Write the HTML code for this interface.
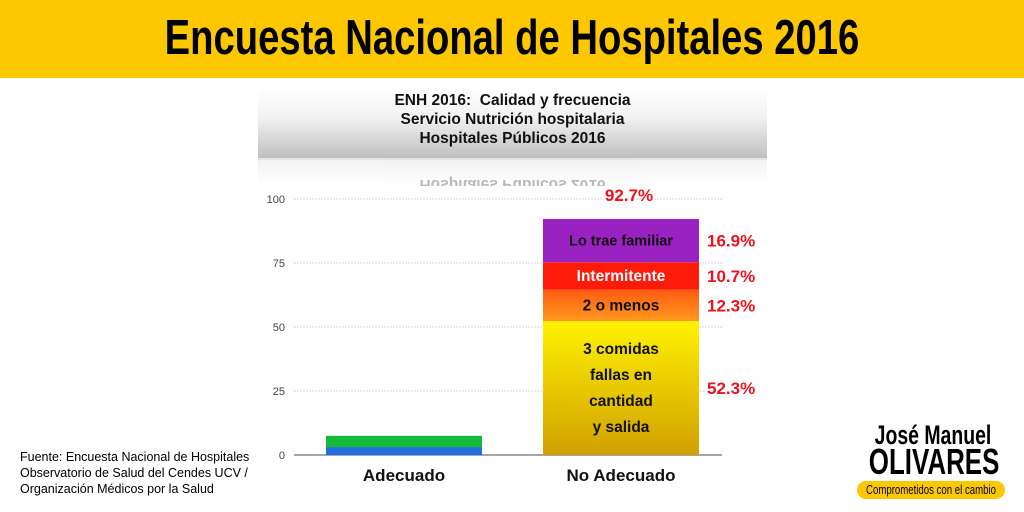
<!DOCTYPE html>
<html><head><meta charset="utf-8"><style>
body{margin:0;width:1024px;height:512px;background:#fff;overflow:hidden;position:relative;font-family:"Liberation Sans",sans-serif}
.hdr{position:absolute;left:0;top:0;width:1024px;height:78px;background:#fdc800}
.hdr span{position:absolute;left:0;right:0;top:10px;text-align:center;font-weight:bold;font-size:49px;color:#000;transform:scaleX(0.78);font-family:"Liberation Sans Narrow","Liberation Sans",sans-serif;white-space:nowrap}
.tbox{position:absolute;left:258px;top:88px;width:509px;height:72px;background:linear-gradient(#fff,#f2f2f2 40%,#bdbdbd);text-align:center;font-weight:bold;font-size:15.5px;line-height:19px;padding-top:3px;box-sizing:border-box;color:#111}
.refl{position:absolute;left:258px;top:158px;width:509px;height:28px;text-align:center;font-weight:bold;font-size:15.5px;color:#aaa;transform:scaleY(-1);background:linear-gradient(#fff,#eee);opacity:.8;line-height:19px;overflow:hidden}
.src{position:absolute;left:20px;top:449px;font-size:12.5px;line-height:16px;color:#000;white-space:nowrap}
.logo1{position:absolute;left:848px;top:422px;width:170px;text-align:center;font-weight:bold;font-size:27px;line-height:26px;transform:scaleX(.72);font-family:"Liberation Sans Narrow","Liberation Sans",sans-serif;white-space:nowrap}
.logo2{position:absolute;left:845px;top:444px;width:170px;text-align:center;font-weight:bold;font-size:36px;line-height:36px;transform:scaleX(.72);font-family:"Liberation Sans Narrow","Liberation Sans",sans-serif;white-space:nowrap}
.pill{position:absolute;left:857px;top:481px;width:148px;height:18px;border-radius:9px;background:#fdc800;overflow:hidden}
.pill div{position:absolute;left:-21px;width:190px;top:0;text-align:center;font-size:13px;line-height:18px;white-space:nowrap;transform:scaleX(.74)}
</style></head><body>
<div class="hdr"><span>Encuesta Nacional de Hospitales 2016</span></div>
<div class="tbox">ENH 2016:&nbsp; Calidad y frecuencia<br>Servicio Nutrición hospitalaria<br>Hospitales Públicos 2016</div>
<div class="refl"><div style="margin-top:-8px">Hospitales Públicos 2016</div></div>
<svg id="chart" width="1024" height="512" style="position:absolute;left:0;top:0"></svg>
<div class="src">Fuente: Encuesta Nacional de Hospitales<br>Observatorio de Salud del Cendes UCV /<br>Organización Médicos por la Salud</div>
<div class="logo1">José Manuel</div>
<div class="logo2">OLIVARES</div>
<div class="pill"><div>Comprometidos con el cambio</div></div>
<script>
const ticks=[0,25,50,75,100];
const categories=["Adecuado","No Adecuado"];
const adecuadoVals=[3.1,4.4];
const adecuadoColors=["#1f6fe0","#16b93a"];
const noAdecLabels=["3 comidas\nfallas en\ncantidad\ny salida","2 o menos","Intermitente","Lo trae familiar"];
const noAdecVals=[52.3,12.3,10.7,16.9];
const noAdecPct=["52.3%","12.3%","10.7%","16.9%"];
const totalLabel="92.7%";
const NS="http://www.w3.org/2000/svg";
const svg=document.getElementById('chart');
const y=v=>455-v*2.56;
function mk(t,a){const e=document.createElementNS(NS,t);for(const k in a)e.setAttribute(k,a[k]);svg.appendChild(e);return e;}
ticks.forEach(t=>{
 const l=mk('line',{x1:294,x2:722,y1:y(t),y2:y(t),stroke:t?'#d4d4d4':'#888','stroke-width':t?1:1.5,'stroke-dasharray':t?'2,1':''});
 
 
 const tx=mk('text',{x:285,y:y(t)+4,'text-anchor':'end','font-size':11,fill:'#444'});tx.textContent=t;
 
 
});
const bx=[326,543],bw=156;
categories.forEach((c,i)=>{const t=mk('text',{x:bx[i]+bw/2,y:481,'text-anchor':'middle','font-size':17,'font-weight':'bold',fill:'#111'});t.textContent=c;
 
 });
let acc=0;
adecuadoVals.forEach((v,i)=>{const r=mk('rect',{x:bx[0],y:y(acc+v),width:bw,height:v*2.56,fill:adecuadoColors[i]});acc+=v;
 
 });
const defs=mk('defs',{});
defs.innerHTML='<linearGradient id="gy" x1="0" y1="0" x2="0" y2="1"><stop offset="0" stop-color="#fff200"/><stop offset="1" stop-color="#d0a000"/></linearGradient><linearGradient id="go" x1="0" y1="0" x2="0" y2="1"><stop offset="0" stop-color="#ff5a10"/><stop offset="1" stop-color="#ff9a20"/></linearGradient>';
const cols=["url(#gy)","url(#go)","#ff1a0a","#9a22c0"];
acc=0;
noAdecVals.forEach((v,i)=>{
 const top=y(acc+v),bot=y(acc);
 const r=mk('rect',{x:bx[1],y:top,width:bw,height:bot-top,fill:cols[i]});
 
 
 const lines=noAdecLabels[i].split('\n');const mid=(top+bot)/2;
 lines.forEach((ln,j)=>{const t=mk('text',{x:bx[1]+bw/2,y:mid+5+(j-(lines.length-1)/2)*26,'text-anchor':'middle','font-size':i==3?14.5:15.5,'font-weight':'bold',fill:i==2?'#fff':'#111'});t.textContent=ln;
  
  });
 const p=mk('text',{x:707,y:mid+6,'font-size':17,'font-weight':'bold',fill:'#e8141e'});p.textContent=noAdecPct[i];
 
 
 acc+=v;
});
const tl=mk('text',{x:bx[1]+bw/2+8,y:y(acc)-18,'text-anchor':'middle','font-size':17,'font-weight':'bold',fill:'#e8141e'});tl.textContent=totalLabel;


</script>
</body></html>
